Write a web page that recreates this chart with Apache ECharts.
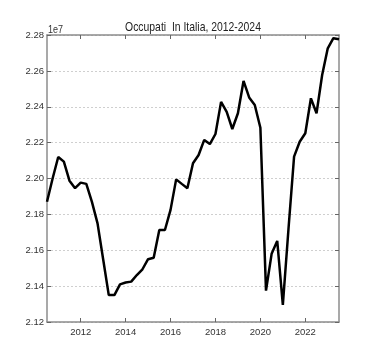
<!DOCTYPE html>
<html>
<head>
<meta charset="utf-8">
<script src="https://cdn.jsdelivr.net/npm/echarts@6/dist/echarts.min.js"></script>
<style>html,body{margin:0;padding:0;background:#fff}#c{width:376px;height:357px}</style>
</head>
<body>
<div id="c"></div>
<script>
var times = [2010.5,2010.75,2011.0,2011.25,2011.5,2011.75,2012.0,2012.25,2012.5,2012.75,
  2013.0,2013.25,2013.5,2013.75,2014.0,2014.25,2014.5,2014.75,2015.0,2015.25,
  2015.5,2015.75,2016.0,2016.25,2016.5,2016.75,2017.0,2017.25,2017.5,2017.75,
  2018.0,2018.25,2018.5,2018.75,2019.0,2019.25,2019.5,2019.75,2020.0,2020.25,
  2020.5,2020.75,2021.0,2021.25,2021.5,2021.75,2022.0,2022.25,2022.5,2022.75,
  2023.0,2023.25,2023.5];
var occupati = [21870000,22000000,22120000,22094000,21988000,21946000,21977000,21970000,21870000,21750000,
  21550000,21350000,21350000,21410000,21420000,21425000,21462000,21494000,21550000,21558000,
  21713000,21713000,21825000,21995000,21970000,21946000,22085000,22131000,22215000,22192000,
  22248000,22427000,22372000,22276000,22364000,22544000,22452000,22410000,22283000,21375000,
  21580000,21652000,21295000,21717000,22122000,22205000,22252000,22447000,22364000,22577000,
  22726000,22782000,22776000];
var xTicks = [2012,2014,2016,2018,2020,2022];
var yMin = 21200000, yMax = 22800000, yStep = 200000;
var titleText = 'Occupati  In Italia, 2012-2024';
var offsetText = '1e7';

var data = times.map(function(t,i){return [t, occupati[i]];});
var chart = echarts.init(document.getElementById('c'));
var font = "'Liberation Sans',sans-serif";
var frame = {show:true, lineStyle:{color:'#8c8c8c', width:1.5}};
chart.setOption({
  animation:false,
  graphic:[
    {type:'text', x:193, y:27, scaleX:0.8, scaleY:1,
      style:{text:titleText, font:"13px "+font, fill:'#222', align:'center', verticalAlign:'middle'}},
    {type:'text', x:48, y:30, scaleX:0.9,
      style:{text:offsetText, font:"10px "+font, fill:'#333', align:'left', verticalAlign:'middle'}}
  ],
  grid:{left:47, right:37, top:35, bottom:35},
  xAxis:[{type:'value', min:2010.5, max:2023.5, position:'bottom',
      axisLine:frame, splitLine:{show:false},
      axisTick:{inside:true, length:4, customValues:xTicks, lineStyle:{color:'#666'}},
      axisLabel:{customValues:xTicks, fontFamily:font, fontSize:9.5, color:'#333', margin:5,
        formatter:function(v){return String(v);}}},
    {type:'value', min:2010.5, max:2023.5, position:'top',
      axisLine:frame, splitLine:{show:false},
      axisTick:{inside:true, length:4, customValues:xTicks, lineStyle:{color:'#666'}},
      axisLabel:{show:false}}],
  yAxis:[{type:'value', min:yMin, max:yMax, interval:yStep, position:'left',
      axisLine:frame,
      axisTick:{show:true, inside:true, length:4, lineStyle:{color:'#666'}},
      splitLine:{show:true, lineStyle:{color:'#cfcfcf', type:[2,2], width:1}},
      axisLabel:{fontFamily:font, fontSize:9.5, color:'#333', margin:3,
        formatter:function(v){return (v/1e7).toFixed(2);}}},
    {type:'value', min:yMin, max:yMax, interval:yStep, position:'right',
      axisLine:frame,
      axisTick:{show:true, inside:true, length:4, lineStyle:{color:'#666'}},
      splitLine:{show:false}, axisLabel:{show:false}}],
  series:[{type:'line', data:data, symbol:'none', xAxisIndex:0, yAxisIndex:0,
    lineStyle:{color:'#000', width:2.5}}]
});
</script>
</body>
</html>
